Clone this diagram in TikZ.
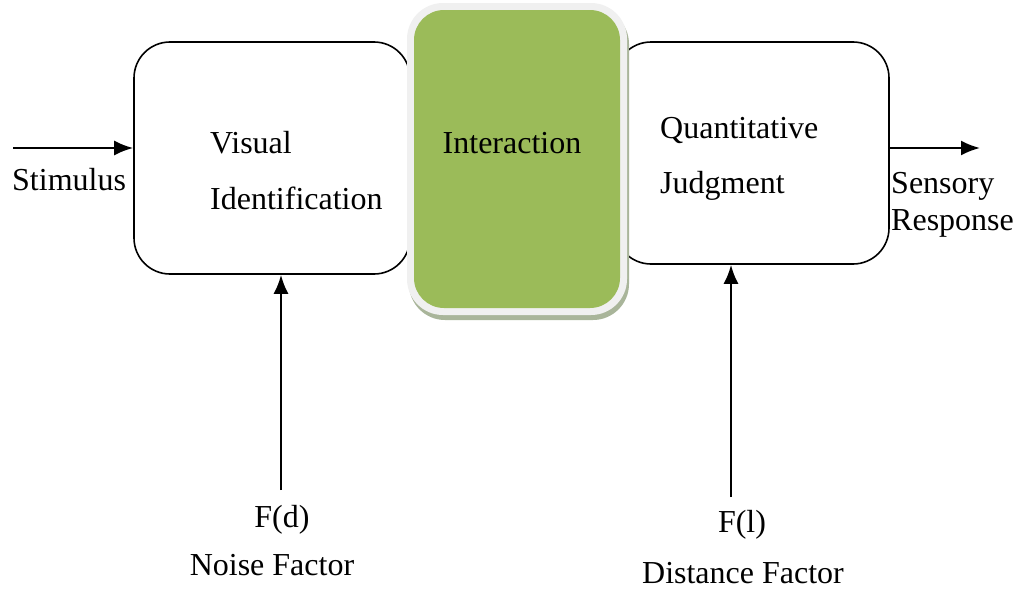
\documentclass[tikz,border=0pt]{standalone}
\usepackage{fontspec}
\setmainfont{Liberation Serif}
\usetikzlibrary{arrows.meta}
\definecolor{olive}{HTML}{9BBB59}
\definecolor{bevel}{HTML}{F0F0F0}
\definecolor{shade}{HTML}{A9B59A}
\begin{document}
\begin{tikzpicture}[x=1pt,y=-1pt,
  every node/.style={font=\fontsize{32}{38}\selectfont, inner sep=0pt},
  procbox/.style={draw, line width=1.6pt, rounded corners=36pt, rectangle, fill=white},
  flow/.style={line width=2.2pt, -{Latex[length=19pt,width=15pt]}},
  lbl/.style={anchor=west}]
\useasboundingbox (0,0) rectangle (1018,589);
% side boxes
\node[procbox, minimum width=276pt, minimum height=232pt] (lbox) at (272,158) {};
\node[procbox, minimum width=274pt, minimum height=222pt] (rbox) at (752,153) {};
% interaction block with shadow and bevel
\node[rectangle, rounded corners=36pt, fill=shade, minimum width=220pt, minimum height=312pt] (ishadow) at (519,164) {};
\node[rectangle, rounded corners=36pt, fill=bevel, minimum width=220pt, minimum height=312pt] (iouter) at (517,159) {};
\node[rectangle, rounded corners=30pt, fill=olive, minimum width=206pt, minimum height=298pt] (inner) at (517,159) {};
% labels
\node[lbl] (vis) at (210,143) {Visual};
\node[lbl] (ident) at (210,198) {Identification};
\node (inter) at (512,143) {Interaction};
\node[lbl] (quant) at (660,130) {Quantitative};
\node[lbl] (judg) at (660,186) {Judgment};
\node[lbl] (stim) at (12,180) {Stimulus};
\node[lbl] (sens) at (891,186) {Sensory};
\node[lbl] (resp) at (891,223) {Response};
\node (fd) at (282,520) {F(d)};
\node (noise) at (272,565) {Noise Factor};
\node (fl) at (742,525) {F(l)};
\node (dist) at (743,573) {Distance Factor};
% connectors
\coordinate (sin) at (13,148);
\coordinate (sout) at (980,148);
\coordinate (nd) at (281,490);
\coordinate (dd) at (731,497);
\draw[flow] (sin) -- (sin -| lbox.west);
\draw[flow] (sout -| rbox.east) -- (sout);
\draw[flow] (nd) -- (nd |- lbox.south);
\draw[flow] (dd) -- (dd |- rbox.south);
\end{tikzpicture}
\end{document}
